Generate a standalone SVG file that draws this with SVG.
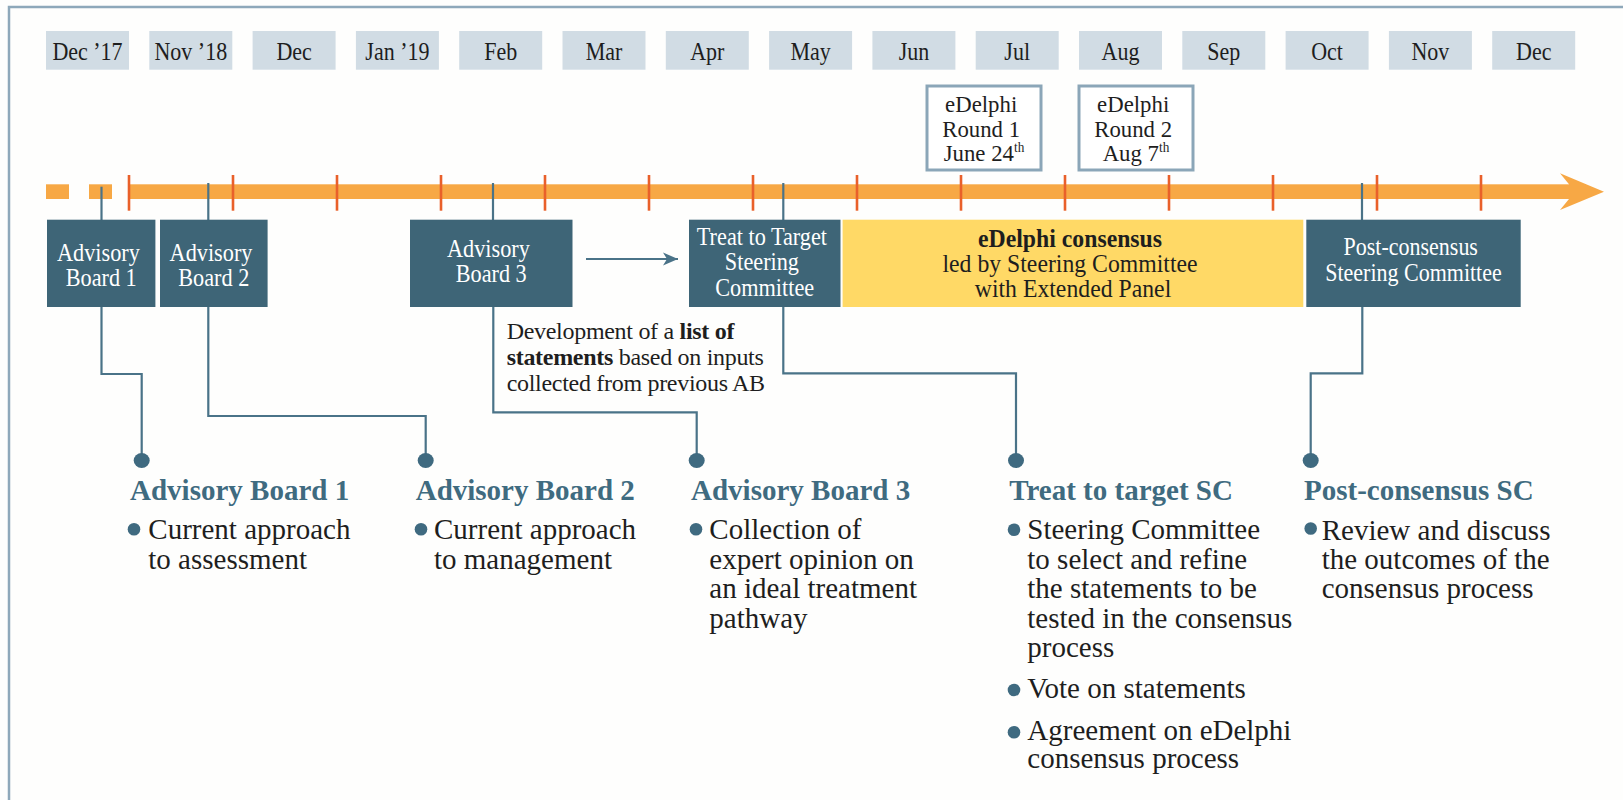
<svg xmlns="http://www.w3.org/2000/svg" width="1623" height="800" viewBox="0 0 1623 800">
  <defs>
    <style>
      .frame { stroke: #8ea8ba; stroke-width: 2.5; fill: none; }
      .mbox { fill: #d1dce4; }
      .mtxt { font-family: "Liberation Serif", "Times New Roman", serif; font-size: 25px; fill: #1e1e1e; text-anchor: middle; }
      .bar { fill: #f7a845; }
      .tick { stroke: #e9602a; stroke-width: 2.6; }
      .node { fill: #3e6577; }
      .ntxt { font-family: "Liberation Serif", "Times New Roman", serif; font-size: 25px; fill: #ffffff; text-anchor: middle; }
      .ybox { fill: #ffd966; }
      .ytxt { font-family: "Liberation Serif", "Times New Roman", serif; font-size: 25px; fill: #1e1e1e; text-anchor: middle; }
      .rbox { fill: #ffffff; stroke: #8ba6b8; stroke-width: 3; }
      .rtxt { font-family: "Liberation Serif", "Times New Roman", serif; font-size: 24px; fill: #1e1e1e; text-anchor: middle; }
      .sup { font-size: 14px; }
      .link { stroke: #4a7388; stroke-width: 2.2; fill: none; }
      .dot { fill: #3f6a80; }
      .head { font-family: "Liberation Serif", "Times New Roman", serif; font-size: 29px; font-weight: bold; fill: #3f6b80; }
      .body { font-family: "Liberation Serif", "Times New Roman", serif; font-size: 29px; fill: #1e1e1e; }
      .note { font-family: "Liberation Serif", "Times New Roman", serif; font-size: 24px; fill: #1e1e1e; letter-spacing: -0.3px; }
      .b { font-weight: bold; }
    </style>
    <marker id="arrow" markerUnits="userSpaceOnUse" markerWidth="16" markerHeight="14" refX="15" refY="7" orient="auto">
      <path d="M0,0.5 L15,7 L0,13.5 L4,7 Z" fill="#4a7388"/>
    </marker>
  </defs>

  <rect width="1623" height="800" fill="#fefefd"/>

  <!-- frame: top and left rules -->
  <path class="frame" d="M9,800 V7 H1623"/>

  <!-- month headers -->
  <g id="months">
    <rect class="mbox" x="46" y="31" width="83" height="38.7"/>
    <rect class="mbox" x="149.3" y="31" width="83" height="38.7"/>
    <rect class="mbox" x="252.6" y="31" width="83" height="38.7"/>
    <rect class="mbox" x="355.9" y="31" width="83" height="38.7"/>
    <rect class="mbox" x="459.2" y="31" width="83" height="38.7"/>
    <rect class="mbox" x="562.5" y="31" width="83" height="38.7"/>
    <rect class="mbox" x="665.8" y="31" width="83" height="38.7"/>
    <rect class="mbox" x="769.1" y="31" width="83" height="38.7"/>
    <rect class="mbox" x="872.4" y="31" width="83" height="38.7"/>
    <rect class="mbox" x="975.7" y="31" width="83" height="38.7"/>
    <rect class="mbox" x="1079" y="31" width="83" height="38.7"/>
    <rect class="mbox" x="1182.3" y="31" width="83" height="38.7"/>
    <rect class="mbox" x="1285.6" y="31" width="83" height="38.7"/>
    <rect class="mbox" x="1388.9" y="31" width="83" height="38.7"/>
    <rect class="mbox" x="1492.2" y="31" width="83" height="38.7"/>
    <text class="mtxt" transform="matrix(0.88 0 0 1 87.5 59.5)">Dec ’17</text>
    <text class="mtxt" transform="matrix(0.88 0 0 1 190.8 59.5)">Nov ’18</text>
    <text class="mtxt" transform="matrix(0.88 0 0 1 294.1 59.5)">Dec</text>
    <text class="mtxt" transform="matrix(0.88 0 0 1 397.4 59.5)">Jan ’19</text>
    <text class="mtxt" transform="matrix(0.88 0 0 1 500.7 59.5)">Feb</text>
    <text class="mtxt" transform="matrix(0.88 0 0 1 604 59.5)">Mar</text>
    <text class="mtxt" transform="matrix(0.88 0 0 1 707.3 59.5)">Apr</text>
    <text class="mtxt" transform="matrix(0.88 0 0 1 810.6 59.5)">May</text>
    <text class="mtxt" transform="matrix(0.88 0 0 1 913.9 59.5)">Jun</text>
    <text class="mtxt" transform="matrix(0.88 0 0 1 1017.2 59.5)">Jul</text>
    <text class="mtxt" transform="matrix(0.88 0 0 1 1120.5 59.5)">Aug</text>
    <text class="mtxt" transform="matrix(0.88 0 0 1 1223.8 59.5)">Sep</text>
    <text class="mtxt" transform="matrix(0.88 0 0 1 1327.1 59.5)">Oct</text>
    <text class="mtxt" transform="matrix(0.88 0 0 1 1430.4 59.5)">Nov</text>
    <text class="mtxt" transform="matrix(0.88 0 0 1 1533.7 59.5)">Dec</text>
  </g>

  <!-- eDelphi round call-outs -->
  <g id="round1">
    <rect class="rbox" x="927" y="86" width="114" height="84"/>
    <text class="rtxt" transform="matrix(0.95 0 0 1 984 0)">
      <tspan x="0" y="112.5">eDelphi</tspan>
      <tspan x="0" y="136.7">Round 1</tspan>
      <tspan x="0" y="160.7">June 24<tspan class="sup" dy="-9">th</tspan></tspan>
    </text>
  </g>
  <g id="round2">
    <rect class="rbox" x="1079" y="86" width="114" height="84"/>
    <text class="rtxt" transform="matrix(0.95 0 0 1 1136 0)">
      <tspan x="0" y="112.5">eDelphi</tspan>
      <tspan x="0" y="136.7">Round 2</tspan>
      <tspan x="0" y="160.7">Aug 7<tspan class="sup" dy="-9">th</tspan></tspan>
    </text>
  </g>

  <!-- timeline bar with month ticks -->
  <g id="timeline">
    <rect class="bar" x="46" y="184.3" width="23" height="14.7"/>
    <rect class="bar" x="89" y="184.3" width="23" height="14.7"/>
    <rect class="bar" x="129" y="184.3" width="1440" height="14.7"/>
    <path class="bar" d="M1560,173.3 L1604,191.7 L1560,210 L1569,199 L1569,184.3 Z"/>
    <g class="tick">
      <line x1="129" y1="175" x2="129" y2="210.7"/>
      <line x1="233" y1="175" x2="233" y2="210.7"/>
      <line x1="337" y1="175" x2="337" y2="210.7"/>
      <line x1="441" y1="175" x2="441" y2="210.7"/>
      <line x1="545" y1="175" x2="545" y2="210.7"/>
      <line x1="649" y1="175" x2="649" y2="210.7"/>
      <line x1="753" y1="175" x2="753" y2="210.7"/>
      <line x1="857" y1="175" x2="857" y2="210.7"/>
      <line x1="961" y1="175" x2="961" y2="210.7"/>
      <line x1="1065" y1="175" x2="1065" y2="210.7"/>
      <line x1="1169" y1="175" x2="1169" y2="210.7"/>
      <line x1="1273" y1="175" x2="1273" y2="210.7"/>
      <line x1="1377" y1="175" x2="1377" y2="210.7"/>
      <line x1="1481" y1="175" x2="1481" y2="210.7"/>
    </g>
  </g>

  <!-- connectors -->
  <g id="connectors">
    <line class="link" x1="101.5" y1="186.7" x2="101.5" y2="220"/>
    <line class="link" x1="208.3" y1="183" x2="208.3" y2="220"/>
    <line class="link" x1="493" y1="183" x2="493" y2="220"/>
    <line class="link" x1="783.3" y1="183" x2="783.3" y2="220"/>
    <line class="link" x1="1362" y1="183" x2="1362" y2="220"/>
    <line class="link" x1="586" y1="259" x2="678" y2="259" marker-end="url(#arrow)"/>
    <path class="link" d="M101.5,307 V374 H141.7 V458"/>
    <path class="link" d="M208.3,307 V416 H425.7 V458"/>
    <path class="link" d="M493.3,307 V412.3 H696.7 V458"/>
    <path class="link" d="M783.3,307 V373.3 H1016 V458"/>
    <path class="link" d="M1362.3,307 V373.3 H1310.7 V458"/>
    <ellipse class="dot" cx="141.7" cy="460.5" rx="8" ry="7.5"/>
    <ellipse class="dot" cx="425.7" cy="460.5" rx="8" ry="7.5"/>
    <ellipse class="dot" cx="696.7" cy="460.5" rx="8" ry="7.5"/>
    <ellipse class="dot" cx="1016" cy="460.5" rx="8" ry="7.5"/>
    <ellipse class="dot" cx="1310.7" cy="460.5" rx="8" ry="7.5"/>
  </g>

  <!-- phase boxes on the timeline -->
  <g id="ab1-box">
    <rect class="node" x="47" y="219.7" width="108.4" height="87.3"/>
    <text class="ntxt" transform="matrix(0.89 0 0 1 101.2 0)">
      <tspan x="0" y="261">Advisory</tspan>
      <tspan x="0" y="286">Board 1</tspan>
    </text>
  </g>
  <g id="ab2-box">
    <rect class="node" x="160" y="219.7" width="107.6" height="87.3"/>
    <text class="ntxt" transform="matrix(0.89 0 0 1 213.8 0)">
      <tspan x="0" y="261">Advisory</tspan>
      <tspan x="0" y="286">Board 2</tspan>
    </text>
  </g>
  <g id="ab3-box">
    <rect class="node" x="410" y="219.7" width="162.5" height="87.3"/>
    <text class="ntxt" transform="matrix(0.89 0 0 1 491.2 0)">
      <tspan x="0" y="256.7">Advisory</tspan>
      <tspan x="0" y="281.7">Board 3</tspan>
    </text>
  </g>
  <g id="t2t-box">
    <rect class="node" x="689" y="219.7" width="151.5" height="87.3"/>
    <text class="ntxt" transform="matrix(0.89 0 0 1 764.7 0)">
      <tspan x="0" y="245">Treat to Target</tspan>
      <tspan x="0" y="270.5">Steering</tspan>
      <tspan x="0" y="296.5">Committee</tspan>
    </text>
  </g>
  <g id="consensus-box">
    <rect class="ybox" x="842.6" y="219.7" width="460.7" height="87.3"/>
    <text class="ytxt" transform="matrix(0.95 0 0 1 1073 0)">
      <tspan x="0" y="246.7" class="b">eDelphi consensus</tspan>
      <tspan x="0" y="271.7">led by Steering Committee</tspan>
      <tspan x="0" y="297.5">with Extended Panel</tspan>
    </text>
  </g>
  <g id="post-box">
    <rect class="node" x="1306.3" y="219.7" width="214.4" height="87.3"/>
    <text class="ntxt" transform="matrix(0.88 0 0 1 1413.5 0)">
      <tspan x="0" y="255">Post-consensus</tspan>
      <tspan x="0" y="281">Steering Committee</tspan>
    </text>
  </g>

  <!-- note under Advisory Board 3 -->
  <g id="ab3-note">
    <text class="note">
      <tspan x="506.7" y="339">Development of a <tspan class="b">list of</tspan></tspan>
      <tspan x="506.7" y="365"><tspan class="b">statements</tspan> based on inputs</tspan>
      <tspan x="506.7" y="390.7">collected from previous AB</tspan>
    </text>
  </g>

  <!-- detail columns -->
  <g id="ab1-detail">
    <text class="head" x="130" y="500">Advisory Board 1</text>
    <circle class="dot" cx="134" cy="529.3" r="6.3"/>
    <text class="body">
      <tspan x="148.3" y="539.3">Current approach</tspan>
      <tspan x="148.3" y="568.7">to assessment</tspan>
    </text>
  </g>
  <g id="ab2-detail">
    <text class="head" x="415.7" y="500">Advisory Board 2</text>
    <circle class="dot" cx="421" cy="529.3" r="6.3"/>
    <text class="body">
      <tspan x="434" y="539.3">Current approach</tspan>
      <tspan x="434" y="568.7">to management</tspan>
    </text>
  </g>
  <g id="ab3-detail">
    <text class="head" x="691" y="500">Advisory Board 3</text>
    <circle class="dot" cx="696" cy="529.3" r="6.3"/>
    <text class="body">
      <tspan x="709.3" y="539.3">Collection of</tspan>
      <tspan x="709.3" y="568.7">expert opinion on</tspan>
      <tspan x="709.3" y="598.3">an ideal treatment</tspan>
      <tspan x="709.3" y="627.8">pathway</tspan>
    </text>
  </g>
  <g id="t2t-detail">
    <text class="head" x="1009.3" y="500">Treat to target SC</text>
    <circle class="dot" cx="1014" cy="529.8" r="6.3"/>
    <circle class="dot" cx="1014" cy="690" r="6.3"/>
    <circle class="dot" cx="1014" cy="732.3" r="6.3"/>
    <text class="body">
      <tspan x="1027.3" y="539.3">Steering Committee</tspan>
      <tspan x="1027.3" y="568.7">to select and refine</tspan>
      <tspan x="1027.3" y="598.3">the statements to be</tspan>
      <tspan x="1027.3" y="627.8">tested in the consensus</tspan>
      <tspan x="1027.3" y="656.7">process</tspan>
    </text>
    <text class="body" x="1027.3" y="698.3">Vote on statements</text>
    <text class="body">
      <tspan x="1027.3" y="740">Agreement on eDelphi</tspan>
      <tspan x="1027.3" y="768.3">consensus process</tspan>
    </text>
  </g>
  <g id="post-detail">
    <text class="head" x="1304" y="500">Post-consensus SC</text>
    <circle class="dot" cx="1310.7" cy="528.5" r="6.3"/>
    <text class="body">
      <tspan x="1321.7" y="539.8">Review and discuss</tspan>
      <tspan x="1321.7" y="569.3">the outcomes of the</tspan>
      <tspan x="1321.7" y="598.3">consensus process</tspan>
    </text>
  </g>
</svg>
